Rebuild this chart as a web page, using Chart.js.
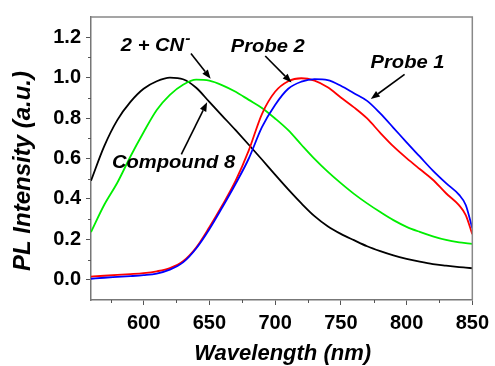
<!DOCTYPE html>
<html lang="en">
<head>
<meta charset="UTF-8">
<title>PL Intensity</title>
<script src="https://cdn.jsdelivr.net/npm/chart.js"></script>
<style>
  html, body { margin: 0; padding: 0; background: #fff; }
  #wrap { width: 495px; height: 366px; }
</style>
</head>
<body>
<div id="wrap"><canvas id="pl-chart" width="495" height="366"></canvas></div>
<script>
// values (wavelength in nm, normalised intensity)
const wavelengths = [560, 570, 580, 590, 600, 610, 620, 630, 640, 650, 660, 670, 680, 690, 700,
  710, 720, 730, 740, 750, 760, 770, 780, 790, 800, 810, 820, 830, 840, 845, 850];
const probe1 = [0.005, 0.010, 0.014, 0.018, 0.023, 0.031, 0.050, 0.086, 0.155, 0.250, 0.360, 0.475, 0.600, 0.755, 0.865,
  0.945, 0.980, 0.993, 0.988, 0.960, 0.923, 0.885, 0.823, 0.752, 0.680, 0.610, 0.540, 0.478, 0.420, 0.370, 0.255];
const probe2 = [0.016, 0.020, 0.024, 0.028, 0.033, 0.042, 0.058, 0.092, 0.160, 0.260, 0.370, 0.490, 0.640, 0.820, 0.930,
  0.982, 0.997, 0.985, 0.952, 0.902, 0.853, 0.798, 0.727, 0.660, 0.602, 0.548, 0.495, 0.428, 0.368, 0.320, 0.225];
const compound8 = [0.236, 0.370, 0.480, 0.610, 0.730, 0.840, 0.915, 0.965, 0.990, 0.985, 0.962, 0.930, 0.890, 0.850, 0.798,
  0.740, 0.668, 0.598, 0.535, 0.478, 0.425, 0.378, 0.335, 0.295, 0.262, 0.237, 0.215, 0.197, 0.185, 0.181, 0.178];
const cnAdduct = [0.490, 0.660, 0.790, 0.880, 0.945, 0.982, 1.000, 0.992, 0.950, 0.880, 0.810, 0.740, 0.668, 0.595, 0.520,
  0.447, 0.378, 0.315, 0.265, 0.227, 0.196, 0.166, 0.142, 0.121, 0.104, 0.090, 0.078, 0.070, 0.063, 0.060, 0.057];

const xTicks = [600, 650, 700, 750, 800, 850];
const xMinorTicks = [575, 625, 675, 725, 775, 825];
const yTicks = [0.0, 0.2, 0.4, 0.6, 0.8, 1.0, 1.2];
const yMinorTicks = [0.1, 0.3, 0.5, 0.7, 0.9, 1.1];

// labels with arrows, placed in data units
const notes = [
  { text: "2 + CN", sup: "-", at: [582.7, 1.156], arrow: [[636, 1.12], [651, 0.995]] },
  { text: "Compound 8", at: [575.9, 0.576], arrow: [[628.7, 0.62], [648.3, 0.878]] },
  { text: "Probe 2", at: [666.3, 1.151], arrow: [[692.5, 1.107], [712.5, 0.976]] },
  { text: "Probe 1", at: [772.6, 1.073], arrow: [[798.5, 1.016], [772.8, 0.894]] },
];

const toPoints = (vals) => wavelengths.map((w, i) => ({ x: w, y: vals[i] }));

const decor = {
  id: "decor",
  afterDraw(chart) {
    const { ctx, chartArea: a, scales: { x, y } } = chart;
    ctx.save();

    // top and right border
    ctx.strokeStyle = "#888";
    ctx.lineWidth = 1.5;
    ctx.beginPath();
    ctx.moveTo(a.left, a.top);
    ctx.lineTo(a.right, a.top);
    ctx.lineTo(a.right, a.bottom);
    ctx.stroke();

    // minor ticks
    ctx.strokeStyle = "#555";
    ctx.lineWidth = 1;
    ctx.beginPath();
    xMinorTicks.forEach((v) => {
      const px = Math.round(x.getPixelForValue(v)) + 0.5;
      ctx.moveTo(px, a.bottom);
      ctx.lineTo(px, a.bottom + 3);
    });
    yMinorTicks.forEach((v) => {
      const py = Math.round(y.getPixelForValue(v)) + 0.5;
      ctx.moveTo(a.left, py);
      ctx.lineTo(a.left - 3, py);
    });
    ctx.stroke();

    // annotations
    ctx.fillStyle = "#000";
    ctx.strokeStyle = "#000";
    notes.forEach((n) => {
      const tx = x.getPixelForValue(n.at[0]);
      const ty = y.getPixelForValue(n.at[1]);
      ctx.font = 'italic bold 18px "Liberation Sans", Arial, sans-serif';
      ctx.textBaseline = "middle";
      ctx.textAlign = "left";
      ctx.save();
      ctx.translate(tx, ty);
      ctx.scale(1.12, 1);
      ctx.fillText(n.text, 0, 0);
      const w = ctx.measureText(n.text).width;
      if (n.sup) {
        ctx.font = 'italic bold 14px "Liberation Sans", Arial, sans-serif';
        ctx.fillText(n.sup, w + 1, -7);
      }
      ctx.restore();

      const x0 = x.getPixelForValue(n.arrow[0][0]);
      const y0 = y.getPixelForValue(n.arrow[0][1]);
      const x1 = x.getPixelForValue(n.arrow[1][0]);
      const y1 = y.getPixelForValue(n.arrow[1][1]);
      const ang = Math.atan2(y1 - y0, x1 - x0);
      const len = 9, half = 3.5;
      const bx = x1 - len * Math.cos(ang);
      const by = y1 - len * Math.sin(ang);
      ctx.lineWidth = 1.6;
      ctx.beginPath();
      ctx.moveTo(x0, y0);
      ctx.lineTo(bx, by);
      ctx.stroke();
      ctx.beginPath();
      ctx.moveTo(x1, y1);
      ctx.lineTo(bx + half * Math.sin(ang), by - half * Math.cos(ang));
      ctx.lineTo(bx - half * Math.sin(ang), by + half * Math.cos(ang));
      ctx.closePath();
      ctx.fill();
    });

    // axis titles
    ctx.textAlign = "center";
    ctx.textBaseline = "middle";
    ctx.font = 'italic bold 22px "Liberation Sans", Arial, sans-serif';
    ctx.fillText("Wavelength (nm)", (a.left + a.right) / 2 + 1, 354);
    ctx.translate(23, 171);
    ctx.rotate(-Math.PI / 2);
    ctx.font = 'italic bold 24px "Liberation Sans", Arial, sans-serif';
    ctx.fillText("PL Intensity (a.u.)", 0, 0);

    ctx.restore();
  },
};

const line = (label, vals, color) => ({
  label,
  data: toPoints(vals),
  borderColor: color,
  borderWidth: 1.8,
  pointRadius: 0,
  fill: false,
  cubicInterpolationMode: "monotone",
});

new Chart(document.getElementById("pl-chart"), {
  type: "line",
  data: {
    datasets: [
      line("Probe 1", probe1, "#0000ff"),
      line("Probe 2", probe2, "#ff0000"),
      line("Compound 8", compound8, "#00ee00"),
      line("2 + CN-", cnAdduct, "#000000"),
    ],
  },
  options: {
    responsive: false,
    animation: false,
    layout: { padding: { left: 0, right: 20, top: 15, bottom: 0 } },
    plugins: { legend: { display: false }, tooltip: { enabled: false } },
    scales: {
      x: {
        type: "linear",
        min: 560,
        max: 850,
        afterBuildTicks: (s) => { s.ticks = xTicks.map((v) => ({ value: v })); },
        afterFit: (s) => { s.height = 66; },
        grid: { drawOnChartArea: false, tickLength: 5, tickColor: "#555", tickWidth: 1 },
        border: { color: "#777", width: 1.5 },
        ticks: {
          color: "#000",
          padding: 6,
          maxRotation: 0,
          font: { family: '"Liberation Sans", Arial, sans-serif', size: 20, weight: "bold" },
        },
      },
      y: {
        min: -0.1,
        max: 1.3,
        afterBuildTicks: (s) => { s.ticks = yTicks.map((v) => ({ value: v })); },
        afterFit: (s) => { s.width = 91; },
        grid: { drawOnChartArea: false, tickLength: 5, tickColor: "#555", tickWidth: 1 },
        border: { color: "#777", width: 1.5 },
        ticks: {
          color: "#000",
          padding: 5,
          callback: (v) => v.toFixed(1),
          font: { family: '"Liberation Sans", Arial, sans-serif', size: 20, weight: "bold" },
        },
      },
    },
  },
  plugins: [decor],
});
</script>
</body>
</html>
